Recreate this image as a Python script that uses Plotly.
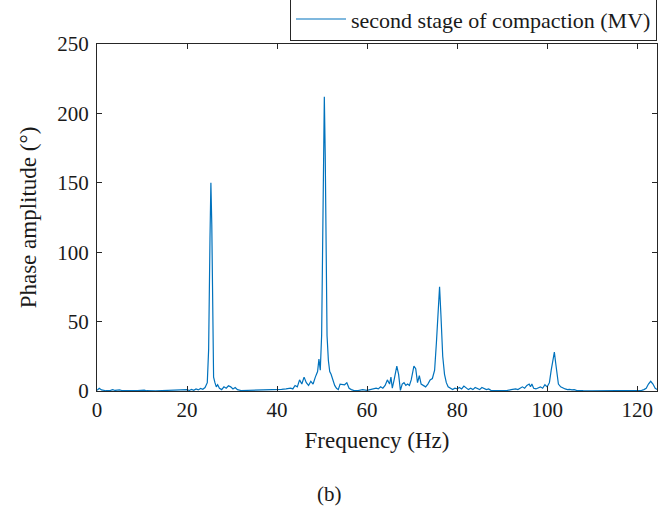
import plotly.graph_objects as go

freq = [0, 0.5, 1.0, 1.5, 2, 3, 3.5, 4, 5, 5.5, 7, 8, 9, 10.5, 11, 13, 15, 17, 19, 20, 20.5, 21, 21.5, 22, 22.5, 23, 23.5, 24,
        24.5, 24.8, 25.1, 25.3, 25.5, 25.7, 25.9, 26.2, 26.5, 26.8, 27.2, 27.7, 28.2, 28.7, 29.2, 29.7, 30.2, 30.7, 31.2,
        32, 33, 34, 35, 36, 37, 38, 39, 40, 41, 42, 43, 43.5, 44, 44.5, 45, 45.5, 46, 46.5, 47, 47.5, 48, 48.5, 49, 49.3,
        49.6, 49.9, 50.2, 50.5, 50.7, 50.9, 51.1, 51.4, 51.7, 52, 52.4, 52.8, 53.2, 53.6, 54, 54.5, 55, 55.5, 56, 56.5,
        57, 58, 59, 60, 61, 62, 62.5, 63, 63.5, 64, 64.5, 65, 65.3, 65.6, 66, 66.6, 67, 67.4, 67.8, 68.2, 68.6, 69, 69.4,
        69.8, 70.4, 70.8, 71.2, 71.6, 72, 72.5, 73, 73.5, 74, 74.5, 75, 75.4, 75.8, 76.1, 76.4, 76.8, 77.2, 77.6, 78,
        78.5, 79, 79.5, 80, 80.5, 81, 81.5, 82, 82.5, 83, 83.5, 84, 84.5, 85, 85.5, 86, 86.5, 87, 87.5, 88, 89, 90, 91,
        92, 93, 93.5, 94, 94.5, 95, 95.5, 96, 96.3, 96.6, 97, 97.5, 98, 98.5, 99, 99.5, 100, 100.5, 100.9, 101.3, 101.6,
        101.9, 102.2, 102.5, 103, 103.5, 104, 104.5, 105, 105.5, 106, 106.5, 107, 108, 110, 112, 114, 116, 118, 119, 120,
        121, 121.5, 122, 122.5, 123, 123.5, 124, 124.5]
amplitude = [0.5, 2.0, 0.8, 0.3, 0.2, 0.5, 1.0, 0.4, 0.8, 0.3, 0.2, 0.3, 0.2, 0.6, 0.2, 0.1, 0.3, 0.2, 0.4, 1.0, 0.3, 1.2, 0.5, 1.5, 0.8, 1.8, 1.2, 2.5,
             6, 30, 110, 150, 120, 40, 10, 6, 3, 4.5, 2, 1, 3, 2, 3.8, 3, 1.5, 2.5, 1,
             0.3, 0.4, 0.2, 0.5, 0.3, 0.6, 0.5, 1, 0.8, 1.2, 1.5, 2, 1.5, 4, 3, 8, 5, 10, 6, 4, 7, 5, 10, 14, 23,
             15, 40, 120, 212, 170, 83, 40, 22, 14, 12, 7, 4, 2, 1, 5, 5, 4.5, 6, 2, 1,
             0.5, 0.3, 1, 0.5, 1.5, 2, 1.5, 3, 2, 4, 8, 5, 10, 2, 8, 18, 12, 0.5, 5, 6, 4, 5, 4,
             8, 18, 16, 6, 11, 5, 4, 3, 5, 8, 9, 15, 35, 60, 75, 55, 25, 12, 6, 3,
             2, 1, 2, 1.5, 2.5, 1.5, 3.5, 2, 1, 2, 1, 2.5, 2, 1, 2.5, 2, 1, 1.5, 0.5, 0.3, 0.2, 0.5, 0.3,
             1, 1.5, 1, 2, 3, 2, 4, 5, 3, 5, 2, 1.5, 2, 3, 2, 4.5, 3, 6, 15, 23, 28,
             20, 10, 5, 3, 2, 1.5, 1, 1.2, 0.8, 1, 0.5, 0.3, 0.2, 0.1, 0.2, 0.1, 0.2, 0.3, 0.5, 0.3,
             0.5, 1, 2, 5, 7, 5, 2, 1]

x_ticks = [0, 20, 40, 60, 80, 100, 120]
y_ticks = [0, 50, 100, 150, 200, 250]

FONT = "Liberation Serif"

fig = go.Figure()
fig.add_trace(go.Scatter(x=freq, y=amplitude, mode="lines",
                         line=dict(color="#0072BD", width=1.2),
                         name="second stage of compaction (MV)"))

axis_common = dict(showline=True, linecolor="#262626", linewidth=1, mirror="ticks",
                   ticks="inside", ticklen=5, tickcolor="#262626", showgrid=False, zeroline=False,
                   tickfont=dict(family=FONT, size=21, color="#1a1a1a"))

fig.update_layout(
    width=658, height=507,
    margin=dict(l=97, r=1, t=44, b=116, autoexpand=False),
    paper_bgcolor="white", plot_bgcolor="white",
    font=dict(family=FONT, size=21, color="#1a1a1a"),
    xaxis=dict(range=[0, 124.4], tickvals=x_ticks, ticktext=[str(v) for v in x_ticks],
               title=dict(text="Frequency (Hz)", font=dict(family=FONT, size=23), standoff=10),
               **axis_common),
    yaxis=dict(range=[0, 250], tickvals=y_ticks, ticktext=[str(v) for v in y_ticks],
               ticklabelstandoff=3,
               title=dict(text="Phase amplitude (°)", font=dict(family=FONT, size=23), standoff=14),
               **axis_common),
    showlegend=True,
    legend=dict(x=1, y=1.008, xanchor="right", yanchor="bottom",
                bordercolor="#262626", borderwidth=1, bgcolor="white",
                font=dict(family=FONT, size=22), tracegroupgap=0,
                itemwidth=50),
    annotations=[dict(text="(b)", x=0.5, xref="paper", y=0, yref="paper",
                      showarrow=False, font=dict(family=FONT, size=21))],
)
plot_h = 507 - 44 - 116
fig.layout.annotations[0].y = -(494 - 391) / plot_h
fig.layout.annotations[0].x = (329 - 97) / (658 - 97 - 1)
fig.layout.annotations[0].yanchor = "middle"

fig.write_html("out.html")
